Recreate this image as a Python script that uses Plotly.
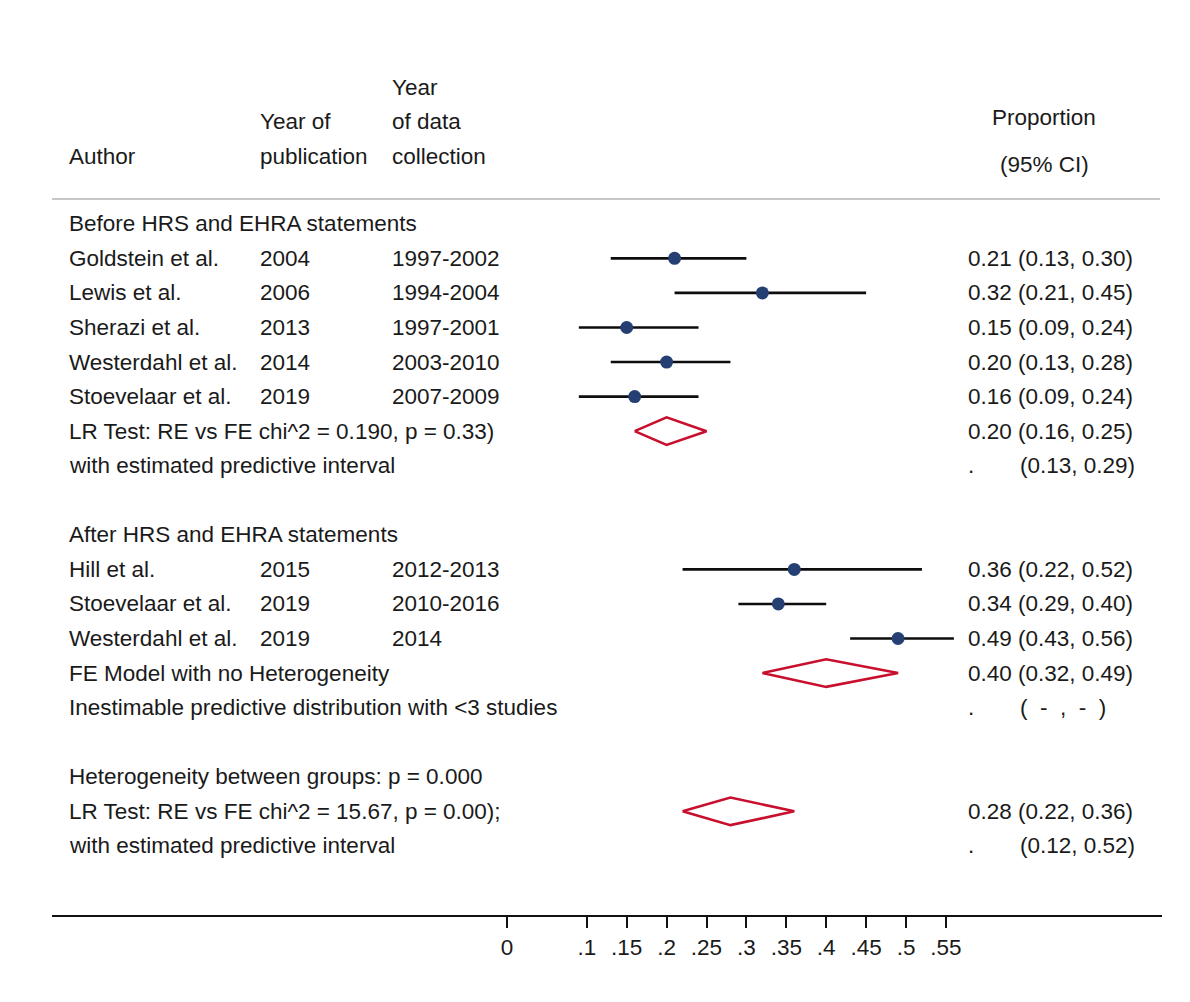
import plotly.graph_objects as go

# ---------------- data ----------------
authors = ["Goldstein et al.", "Lewis et al.", "Sherazi et al.", "Westerdahl et al.", "Stoevelaar et al.",
           "Hill et al.", "Stoevelaar et al.", "Westerdahl et al."]
year_pub = ["2004", "2006", "2013", "2014", "2019", "2015", "2019", "2019"]
year_data = ["1997-2002", "1994-2004", "1997-2001", "2003-2010", "2007-2009",
             "2012-2013", "2010-2016", "2014"]
prop = [0.21, 0.32, 0.15, 0.20, 0.16, 0.36, 0.34, 0.49]
lo = [0.13, 0.21, 0.09, 0.13, 0.09, 0.22, 0.29, 0.43]
hi = [0.30, 0.45, 0.24, 0.28, 0.24, 0.52, 0.40, 0.56]
study_rows = [1, 2, 3, 4, 5, 10, 11, 12]

# summary diamonds
sum_labels = ["LR Test: RE vs FE chi^2 = 0.190, p = 0.33)",
              "FE Model with no Heterogeneity",
              "LR Test: RE vs FE chi^2 = 15.67, p = 0.00);"]
sum_est = [0.20, 0.40, 0.28]
sum_lo = [0.16, 0.32, 0.22]
sum_hi = [0.25, 0.49, 0.36]
sum_rows = [6, 13, 17]

# predictive interval rows
pred_labels = ["with estimated predictive interval",
               "Inestimable predictive distribution with <3 studies",
               "with estimated predictive interval"]
pred_ci = ["(0.13, 0.29)", "( \u00a0- \u00a0, \u00a0- \u00a0)", "(0.12, 0.52)"]
pred_rows = [7, 14, 18]

group_labels = ["Before HRS and EHRA statements", "After HRS and EHRA statements",
                "Heterogeneity between groups: p = 0.000"]
group_rows = [0, 9, 16]

tick_vals = [0, 0.1, 0.15, 0.2, 0.25, 0.3, 0.35, 0.4, 0.45, 0.5, 0.55]
tick_text = ["0", ".1", ".15", ".2", ".25", ".3", ".35", ".4", ".45", ".5", ".55"]

# ---------------- layout helpers ----------------
OFF = 8                      # default page margin of the html body
W, H = 1190 - OFF, 1002 - OFF
ML = 52 - OFF
MT = 51 - OFF
MR = W - (1162 - OFF)
MB = H - (915 - OFF)
PW = W - ML - MR
ZERO_PX = 507 - OFF          # pixel of x = 0 (page coords minus offset)
PX_PER_UNIT = 798
FONT = "Liberation Sans, Arial, sans-serif"
TXT = "#1a1a1a"
FS = 22.5


def px(p):
    return (p - OFF - ML) / PW


X_AUTH, X_PUB, X_DATA, X_EST, X_CI = px(67), px(258), px(390), px(966), px(1018)
X_PROP = px(1044)

fig = go.Figure()

# CI lines + point estimates
fig.add_trace(go.Scatter(
    x=prop, y=study_rows, mode="markers",
    marker=dict(size=13, color="#263f72"),
    error_x=dict(type="data", symmetric=False,
                 array=[h - p for h, p in zip(hi, prop)],
                 arrayminus=[p - l for p, l in zip(prop, lo)],
                 width=0, thickness=2.6, color="#0d0d0d"),
    showlegend=False, hoverinfo="skip"))

# diamonds
for e, l, h, r in zip(sum_est, sum_lo, sum_hi, sum_rows):
    fig.add_trace(go.Scatter(
        x=[l, e, h, e, l], y=[r, r - 0.4, r, r + 0.4, r], mode="lines",
        line=dict(color="#c8102e", width=2.6), showlegend=False, hoverinfo="skip"))

ann = []


def add_text(x, y, t, anchor="left"):
    ann.append(dict(x=x, y=y, xref="paper", yref="y", text=t, showarrow=False,
                    xanchor=anchor, yanchor="middle",
                    font=dict(family=FONT, size=FS, color=TXT)))


# headers
add_text(X_DATA, -3.95, "Year")
add_text(X_PUB, -2.95, "Year of")
add_text(X_DATA, -2.95, "of data")
add_text(X_AUTH, -1.95, "Author")
add_text(X_PUB, -1.95, "publication")
add_text(X_DATA, -1.95, "collection")
add_text(X_PROP, -3.09, "Proportion", "center")
add_text(X_PROP, -1.71, "(95% CI)", "center")

for g, r in zip(group_labels, group_rows):
    add_text(X_AUTH, r, g)

for a, yp, yd, p, l, h, r in zip(authors, year_pub, year_data, prop, lo, hi, study_rows):
    add_text(X_AUTH, r, a)
    add_text(X_PUB, r, yp)
    add_text(X_DATA, r, yd)
    add_text(X_EST, r, f"{p:.2f} ({l:.2f}, {h:.2f})")

for s, e, l, h, r in zip(sum_labels, sum_est, sum_lo, sum_hi, sum_rows):
    add_text(X_AUTH, r, s)
    add_text(X_EST, r, f"{e:.2f} ({l:.2f}, {h:.2f})")

for s, c, r in zip(pred_labels, pred_ci, pred_rows):
    add_text(X_AUTH, r, s)
    add_text(X_EST, r, ".")
    add_text(X_CI, r, c)

fig.update_layout(
    width=W, height=H,
    margin=dict(l=ML, r=MR, t=MT, b=MB),
    paper_bgcolor="white", plot_bgcolor="white",
    annotations=ann,
    shapes=[dict(type="line", xref="paper", yref="y", x0=0, x1=px(1160), y0=-0.72, y1=-0.72,
                 line=dict(color="#c8c8c8", width=2))],
    xaxis=dict(range=[-(ZERO_PX - ML) / PX_PER_UNIT, (W - MR - ZERO_PX) / PX_PER_UNIT],
               showgrid=False, zeroline=False, showline=True, linecolor="#111111", linewidth=2,
               ticks="outside", ticklen=11, tickwidth=1.5, tickcolor="#111111",
               tickvals=tick_vals, ticktext=tick_text,
               tickfont=dict(family=FONT, size=FS, color=TXT), fixedrange=True),
    yaxis=dict(range=[20, -5], visible=False, fixedrange=True),
)

fig.write_html("out.html")
